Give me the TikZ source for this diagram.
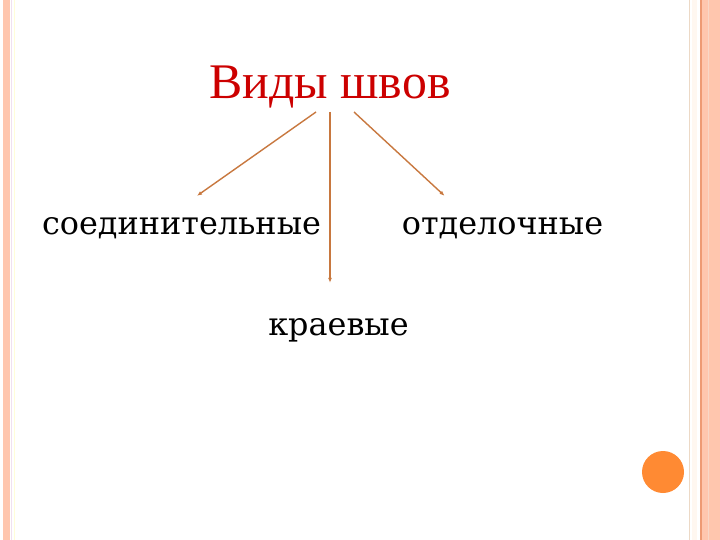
\documentclass[tikz,border=0pt]{standalone}
\usepackage{fontspec}
\usetikzlibrary{arrows.meta}
\setmainfont{DejaVu Serif}
\newfontfamily\titlefont{Liberation Serif}
\definecolor{titlered}{HTML}{CC0000}
\definecolor{arrowc}{HTML}{C8783F}
\definecolor{barpink}{HTML}{FFC6AE}
\definecolor{barline}{HTML}{EE9A74}
\definecolor{dotorange}{HTML}{FF8A33}
\tikzset{
  kind/.style={anchor=base,inner sep=0pt,font=\fontsize{32}{38}\selectfont},
  seam/.style={-{Latex[length=5bp,width=4bp]},draw=arrowc,line width=1.4bp}
}

\begin{document}
\begin{tikzpicture}[x=1bp,y=-1bp]
    \useasboundingbox[fill=white](0,0)rectangle(720,540);
    % frame
    \fill[barpink](2.5,0)rectangle(9.5,540);
    \draw[violet!12,line width=1bp](11,0)--(11,540);
    \draw[yellow!15,line width=1bp](14,0)--(14,540);
    \draw[brown!30,line width=1bp](689,0)--(689,540);
    \fill[orange!6](692,0)rectangle(697,540);
    \fill[barpink](701,0)rectangle(720,540);
    \draw[barline,line width=1.4bp](701,0)--(701,540);
    \draw[barline!40,line width=0.6bp](708,0)--(708,540);
    \fill[dotorange](663,472)circle(21);

    \node[anchor=base,inner sep=0pt,text=titlered,font=\titlefont\fontsize{50}{60}\selectfont](title)at(330,99){Виды швов};
    \node[kind](joining)at(181.5,235){соединительные};
    \node[kind](finishing)at(502.5,235){отделочные};
    \node[kind](edging)at(338.5,335){краевые};

    \coordinate(fromjoin)at([xshift=-14bp,yshift=-13bp]title.base);
    \coordinate(fromedge)at([yshift=-13bp]title.base);
    \coordinate(fromfin)at([xshift=24bp,yshift=-13bp]title.base);
    \coordinate(tojoin)at([xshift=15.5bp,yshift=22bp]joining.north);
    \coordinate(tofin)at([xshift=-58bp,yshift=22bp]finishing.north);
    \coordinate(toedge)at([xshift=-8.5bp,yshift=35bp]edging.north);
    \draw[seam](fromjoin)--(tojoin);
    \draw[seam](fromedge)--(fromedge|-toedge);
    \draw[seam](fromfin)--(tofin);
\end{tikzpicture}
\end{document}
